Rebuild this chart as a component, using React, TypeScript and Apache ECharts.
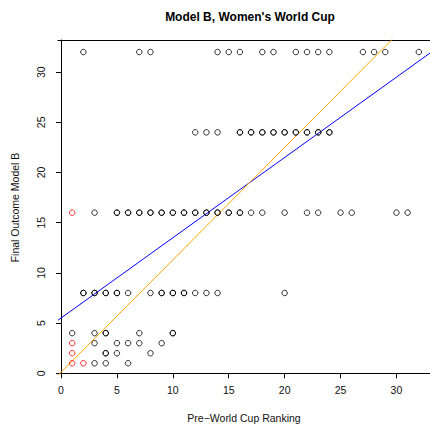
import React, { useEffect, useRef } from "react";
import * as echarts from "echarts";

// Pre-World Cup ranking (x) and final outcome (y), black points (repeats = overlapping points)
const blackX = [
  2, 7, 8, 14, 15, 16, 18, 19, 21, 22, 23, 24, 27, 28, 29, 32,
  12, 13, 14, 16, 17, 18, 19, 20, 21, 22, 23, 24, 16, 17, 18, 19, 20, 21, 22, 23, 24,
  3, 5, 6, 7, 8, 9, 10, 11, 12, 13, 14, 15, 16, 17, 18, 20, 22, 23, 25, 26, 30, 31,
  5, 6, 7, 8, 9, 10, 11, 12, 13, 14, 15, 16,
  2, 3, 4, 5, 6, 8, 9, 10, 11, 12, 13, 14, 20, 2, 3, 4, 5, 9, 10, 11,
  1, 3, 4, 7, 10, 4, 10,
  3, 5, 6, 7, 9,
  4, 5, 8, 4,
  3, 4, 6,
];
const blackY = [
  32, 32, 32, 32, 32, 32, 32, 32, 32, 32, 32, 32, 32, 32, 32, 32,
  24, 24, 24, 24, 24, 24, 24, 24, 24, 24, 24, 24, 24, 24, 24, 24, 24, 24, 24, 24, 24,
  16, 16, 16, 16, 16, 16, 16, 16, 16, 16, 16, 16, 16, 16, 16, 16, 16, 16, 16, 16, 16, 16,
  16, 16, 16, 16, 16, 16, 16, 16, 16, 16, 16, 16,
  8, 8, 8, 8, 8, 8, 8, 8, 8, 8, 8, 8, 8, 8, 8, 8, 8, 8, 8, 8,
  4, 4, 4, 4, 4, 4, 4,
  3, 3, 3, 3, 3,
  2, 2, 2, 2,
  1, 1, 1,
];
// Highlighted (red) points
const redX = [1, 1, 1, 1, 2];
const redY = [16, 3, 2, 1, 1];

// Fitted lines: intercept and slope
const blueLine = { intercept: 5.5, slope: 0.8 };
const orangeLine = { intercept: 0.1, slope: 1.12 };

const tickValues = [0, 5, 10, 15, 20, 25, 30];
const X_MIN = -0.27;
const X_MAX = 33;
const Y_MIN = -0.17;
const Y_MAX = 33.2;

const FONT = "'Liberation Sans', Arial, Helvetica, sans-serif";

export default function App() {
  const ref = useRef<HTMLDivElement>(null);
  useEffect(() => {
    if (!ref.current) return;
    const chart = echarts.init(ref.current, null, { renderer: "svg" });
    const lineData = (l: { intercept: number; slope: number }) => [
      [X_MIN, l.intercept + l.slope * X_MIN],
      [X_MAX, l.intercept + l.slope * X_MAX],
    ];
    const pointStyle = (color: string) => ({
      type: "scatter" as const,
      symbol: "circle",
      symbolSize: 5.5,
      itemStyle: { color: "rgba(0,0,0,0)", borderColor: color, borderWidth: 1 },
      emphasis: { disabled: true },
      z: 3,
    });
    chart.setOption({
      animation: false,
      textStyle: { fontFamily: FONT },
      title: {
        text: "Model B, Women's World Cup",
        left: 245,
        textAlign: "center",
        top: 6,
        textStyle: { fontFamily: FONT, fontSize: 12, fontWeight: "bold", color: "#000" },
      },
      grid: { left: 58, right: 0, top: 40, bottom: 51, outerBoundsMode: "none", containLabel: false },
      xAxis: [
        {
          type: "value",
          min: X_MIN,
          max: X_MAX,
          position: "bottom",
          name: "Pre\u2212World Cup Ranking",
          nameLocation: "middle",
          nameGap: 37,
          nameTextStyle: { fontFamily: FONT, fontSize: 10.5, color: "#111" },
          axisLine: { show: true, lineStyle: { color: "#000", width: 1 } },
          axisTick: { show: true, length: 5, customValues: tickValues, lineStyle: { color: "#000" } },
          axisLabel: { customValues: tickValues, margin: 9, fontFamily: FONT, fontSize: 10.5, color: "#111" },
          splitLine: { show: false },
        },
        {
          type: "value",
          min: X_MIN,
          max: X_MAX,
          position: "top",
          axisLine: { show: true, lineStyle: { color: "#000", width: 1 } },
          axisTick: { show: false },
          axisLabel: { show: false },
          splitLine: { show: false },
        },
      ],
      yAxis: {
        type: "value",
        min: Y_MIN,
        max: Y_MAX,
        name: "Final Outcome Model B",
        nameLocation: "middle",
        nameGap: 38,
        nameRotate: 90,
        nameTextStyle: { fontFamily: FONT, fontSize: 10.5, color: "#111" },
        axisLine: { show: true, lineStyle: { color: "#000", width: 1 } },
        axisTick: { show: true, length: 5, customValues: tickValues, lineStyle: { color: "#000" } },
        axisLabel: { customValues: tickValues, rotate: 90, margin: 12, fontFamily: FONT, fontSize: 10.5, color: "#111" },
        splitLine: { show: false },
      },
      series: [
        { ...pointStyle("#000"), data: blackX.map((x, i) => [x, blackY[i]]) },
        { ...pointStyle("#FF0000"), data: redX.map((x, i) => [x, redY[i]]) },
        {
          type: "line",
          data: lineData(blueLine),
          symbol: "none",
          clip: true,
          lineStyle: { color: "#0000FF", width: 1 },
          emphasis: { disabled: true },
          z: 2,
        },
        {
          type: "line",
          data: lineData(orangeLine),
          symbol: "none",
          clip: true,
          lineStyle: { color: "#FFA500", width: 1 },
          emphasis: { disabled: true },
          z: 2,
        },
      ],
    });
    return () => chart.dispose();
  }, []);
  return (
    <div
      ref={ref}
      style={{ position: "fixed", left: 0, top: 0, width: 430, height: 426, background: "#fff" }}
    />
  );
}
